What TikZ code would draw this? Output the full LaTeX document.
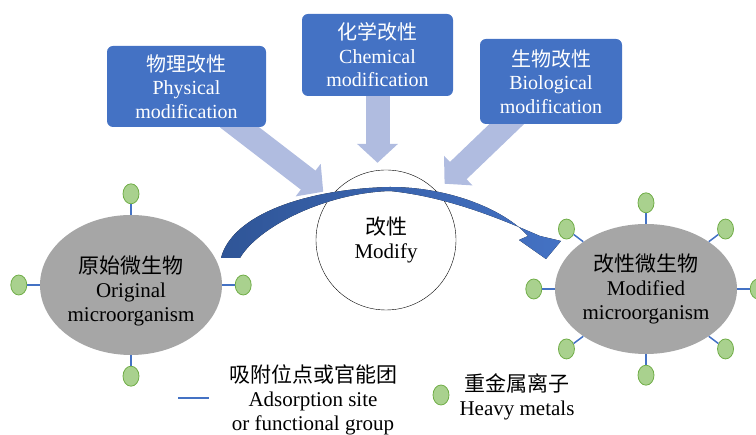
\documentclass[tikz,border=0pt]{standalone}
\usepackage{fontspec}
\setmainfont{Liberation Serif}
\newfontfamily\cjk{Noto Sans CJK SC}
\usetikzlibrary{positioning,arrows.meta,shapes.geometric,calc,backgrounds}
\newcommand{\zh}[1]{{\cjk #1}}
\definecolor{boxblue}{HTML}{4472C4}
\definecolor{darkblue}{HTML}{2F5597}
\definecolor{paleblue}{HTML}{B0BCE0}
\definecolor{cellgray}{HTML}{A6A6A6}
\definecolor{metalfill}{HTML}{A9D18E}
\definecolor{metaldraw}{HTML}{70AD47}
\tikzset{
  mod_box/.style = {rectangle, rounded corners=6pt, fill=boxblue,
    text=white, align=center, inner sep=0pt,
    font=\fontsize{20}{23.5}\selectfont},
  mod_arrow/.style = {paleblue, line width=24pt,
    -{Triangle[length=19pt,width=40pt]}},% fat pale arrow
  txt_n/.style = {align=center, inner sep=0pt,
    font=\fontsize{21}{24}\selectfont},
  cell_n/.style = {txt_n, ellipse, fill=cellgray},
  metal_n/.style = {ellipse, fill=metalfill, draw=metaldraw,
    line width=0.8pt, minimum width=16pt, minimum height=20pt,
    inner sep=0pt},
  site_l/.style = {boxblue, line width=1.5pt}
}

\begin{document}
\begin{tikzpicture}[x=1pt,y=1pt]
\useasboundingbox (0,0) rectangle (756,435);
% modification routes
\node (phys) [mod_box, minimum width=159pt, minimum height=81pt]
  at (186.5,348.5) {\zh{物理改性}\\Physical\\modification};
\node (chem) [mod_box, minimum width=151pt, minimum height=82pt]
  at (377.5,380) {\zh{化学改性}\\Chemical\\modification};
\node (bio) [mod_box, minimum width=142pt, minimum height=85pt]
  at (551,353.5) {\zh{生物改性}\\Biological\\modification};
\node (modify) [txt_n, circle, draw, thin, fill=white, minimum size=140pt]
  at (386,195) {\zh{改性}\\Modify};
\begin{pgfonlayer}{background}
\draw[mod_arrow, shorten <=-15pt, shorten >=9pt] (phys) -- (modify);
\draw[mod_arrow, shorten >=7pt] (chem) -- (chem |- modify.north);
\draw[mod_arrow, shorten <=-15pt, shorten >=11pt] (bio) -- (modify);
\end{pgfonlayer}
% cells
\node (orig) [cell_n, minimum width=182pt, minimum height=140pt]
  at (131,150) {\rule{0pt}{30pt}\zh{原始微生物}\\Original\\microorganism};
\node (modi) [cell_n, minimum width=182pt, minimum height=130pt]
  at (646,146) {\zh{改性微生物}\\Modified\\microorganism};
\foreach \a in {0,90,180,270}{
  \node (om\a) [metal_n] at ($(orig.\a)!-21pt!(orig.center)$) {};
  \draw[site_l] (orig.\a) -- (om\a);
}
\foreach \a in {0,37,90,143,180,217,270,323}{
  \node (mm\a) [metal_n] at ($(modi.\a)!-21pt!(modi.center)$) {};
  \draw[site_l] (modi.\a) -- (mm\a);
}
% big curved arrow
\fill[left color=darkblue, right color=boxblue]
  (221,177) .. controls (232,220) and (305,246) .. (390,248)
  .. controls (450,248) and (505,225) .. (528,199)
  -- (519,195) -- (546,176) -- (561,194) -- (540,199)
  .. controls (505,214) and (450,238) .. (390,244)
  .. controls (325,242) and (258,208) .. (240,177) -- cycle;
% legend
\coordinate (leg_a) at (178,37);
\coordinate (leg_b) at (209,37);
\draw[site_l] (leg_a) -- (leg_b);
\node (site_txt) [txt_n] at (313,35.5)
  {\zh{吸附位点或官能团}\\Adsorption site\\or functional group};
\node (leg_metal) [metal_n] at (441,40) {};
\node (metal_txt) [txt_n] at (517,38.5) {\zh{重金属离子}\\Heavy metals};
\end{tikzpicture}
\end{document}
